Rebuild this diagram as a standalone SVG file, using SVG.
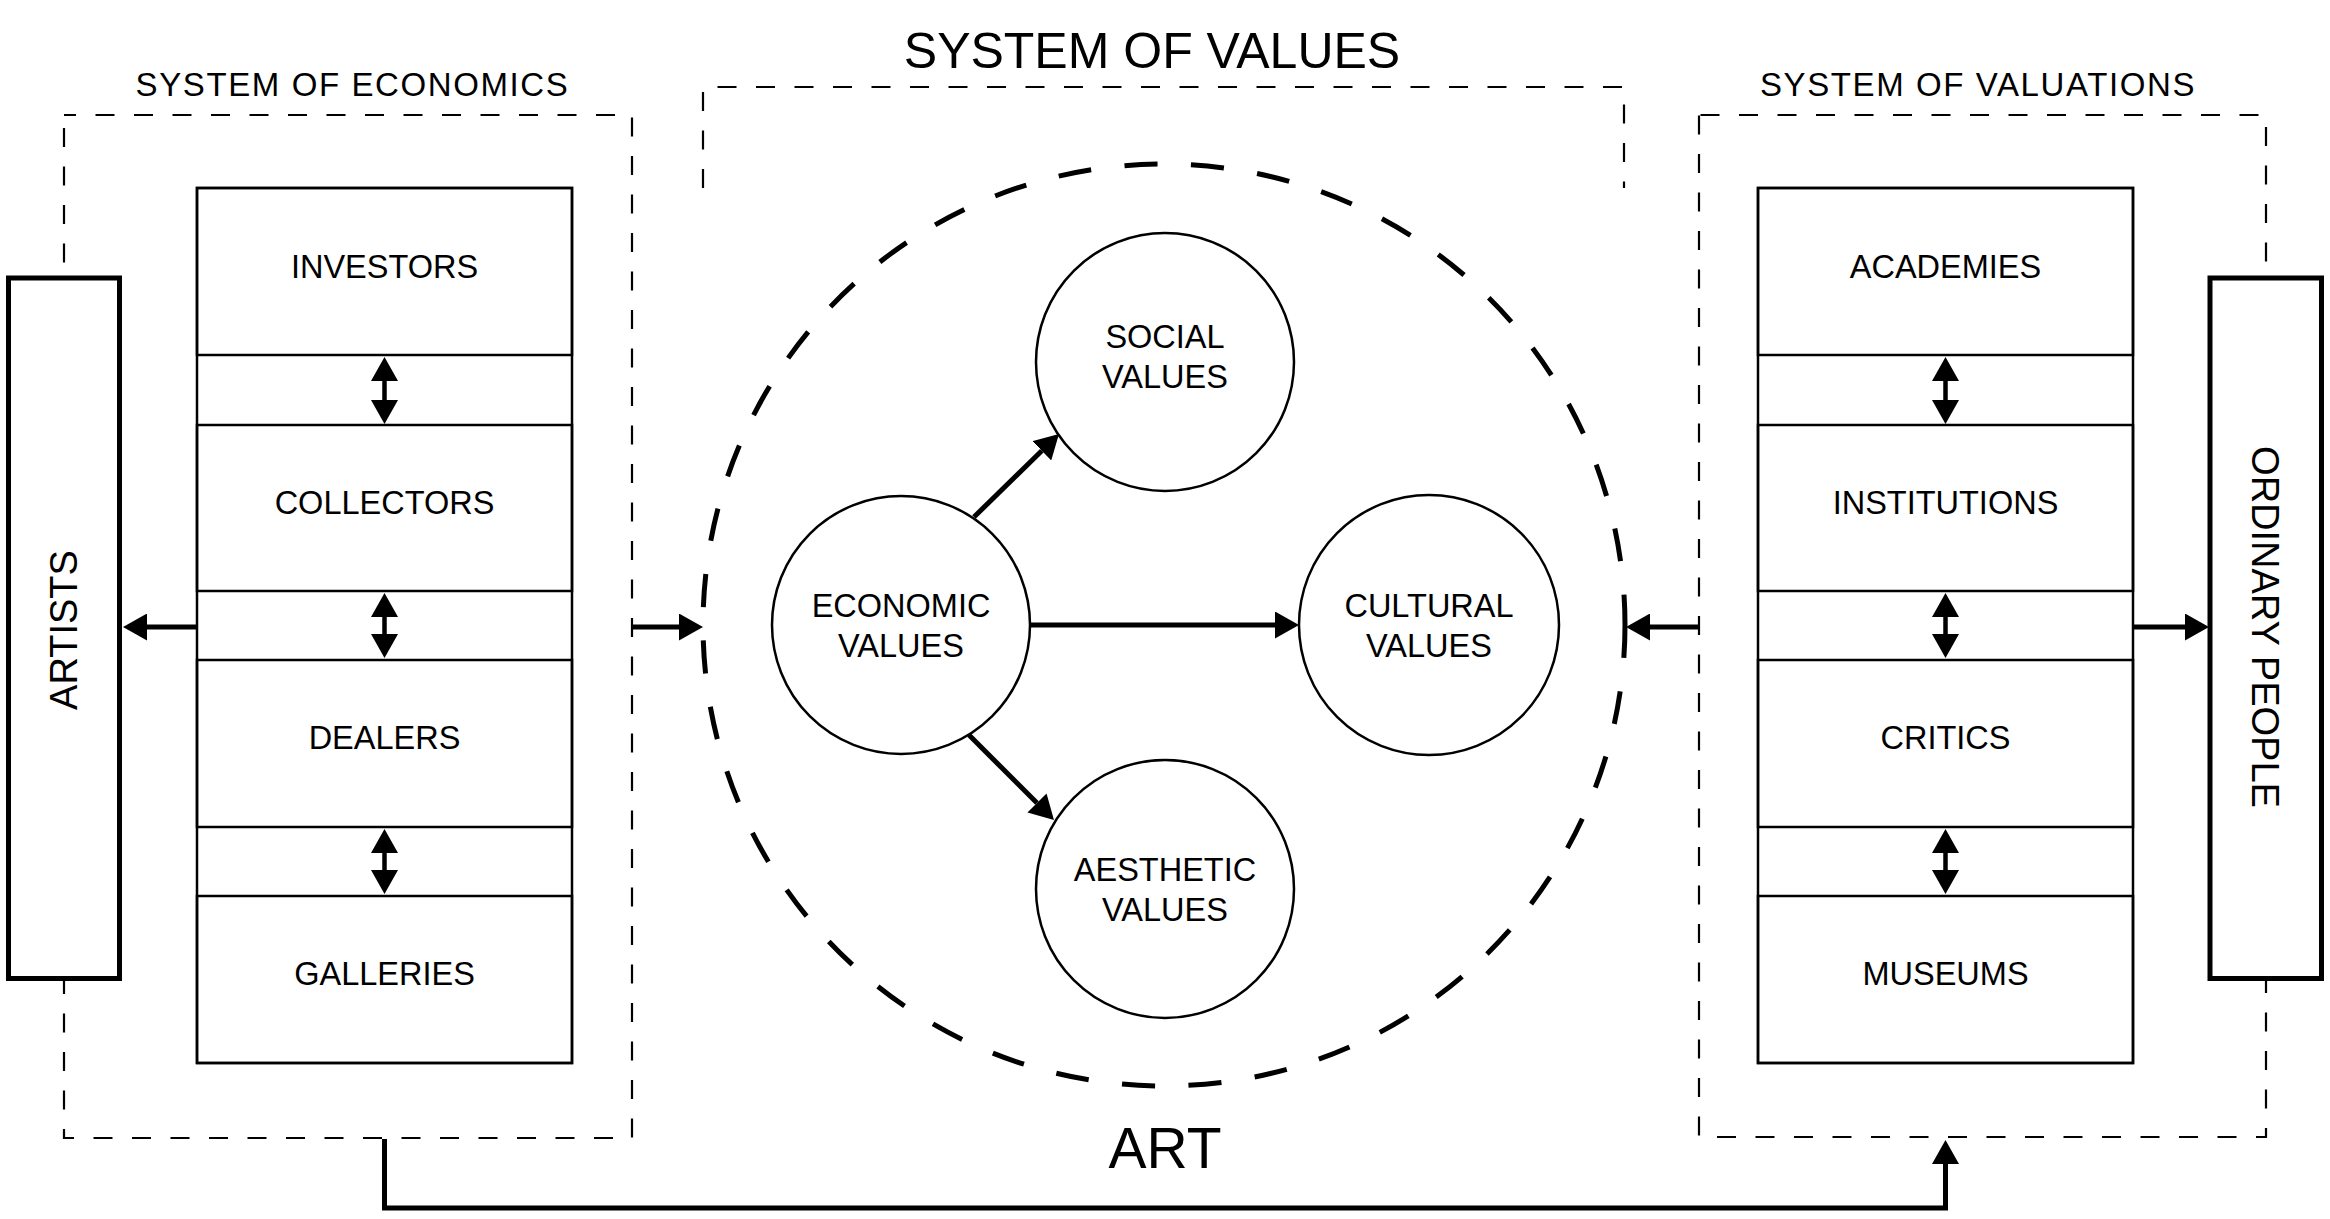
<svg xmlns="http://www.w3.org/2000/svg" width="2330" height="1219" viewBox="0 0 2330 1219">
<style>
text{font-family:"Liberation Sans",Arial,Helvetica,sans-serif;fill:#000;}
.lbl{font-size:32.5px;text-anchor:middle;}
.sys{font-size:33px;letter-spacing:1.6px;text-anchor:middle;}
.side{font-size:38px;text-anchor:middle;}
.dash{fill:none;stroke:#000;stroke-width:2.2;stroke-dasharray:19 19.5;}
.stack{fill:#fff;stroke:#000;stroke-width:2.5;}
.row{fill:none;stroke:#000;stroke-width:2.5;}
.actor{fill:#fff;stroke:#000;stroke-width:5;}
.val{fill:#fff;stroke:#000;stroke-width:2.5;}
.conn{fill:none;stroke:#000;stroke-width:5;marker-end:url(#ah);}
.dbl{fill:none;stroke:#000;stroke-width:4.5;marker-start:url(#ah);marker-end:url(#ah);}
</style>
<defs>
<marker id="ah" markerUnits="userSpaceOnUse" viewBox="0 0 24 27" markerWidth="24" markerHeight="27" refX="0" refY="13.5" orient="auto-start-reverse">
<path d="M0,0 L24,13.5 L0,27 Z" fill="#000"/>
</marker>
</defs>
<rect width="2330" height="1219" fill="#fff"/>

<g id="system-of-economics">
<rect class="dash" x="64" y="115" width="568" height="1023" style="stroke-dashoffset:7"/>
<text class="sys" x="352.5" y="96">SYSTEM OF ECONOMICS</text>
</g>
<g id="system-of-valuations">
<rect class="dash" x="1699" y="115" width="567" height="1022" style="stroke-dashoffset:37"/>
<text class="sys" x="1978" y="96">SYSTEM OF VALUATIONS</text>
</g>
<g id="system-of-values">
<path class="dash" d="M703,188 V87 H1624 V188"/>
<text x="1152" y="68" style="font-size:50px;text-anchor:middle">SYSTEM OF VALUES</text>
</g>
<g id="art">
<circle cx="1164" cy="625" r="461" fill="none" stroke="#000" stroke-width="5" stroke-dasharray="33 33.64"/>
<text x="1165" y="1168" style="font-size:57px;text-anchor:middle">ART</text>
</g>

<g id="artists">
<rect class="actor" x="8.5" y="278" width="111" height="700.5"/>
<text class="side" transform="translate(77,630) rotate(-90)">ARTISTS</text>
</g>
<g id="ordinary-people">
<rect class="actor" x="2210" y="278" width="111.5" height="700.5"/>
<text class="side" transform="translate(2252,627) rotate(90)">ORDINARY PEOPLE</text>
</g>

<g id="economics-stack">
<rect class="stack" x="197" y="188" width="375" height="875"/>
</g>
<g id="investors"><rect class="row" x="197" y="188" width="375" height="167"/><text class="lbl" x="384.5" y="278">INVESTORS</text></g>
<g id="collectors"><rect class="row" x="197" y="425" width="375" height="166"/><text class="lbl" x="384.5" y="514">COLLECTORS</text></g>
<g id="dealers"><rect class="row" x="197" y="660" width="375" height="167"/><text class="lbl" x="384.5" y="749">DEALERS</text></g>
<g id="galleries"><rect class="row" x="197" y="896" width="375" height="167"/><text class="lbl" x="384.5" y="985">GALLERIES</text></g>

<g id="valuations-stack">
<rect class="stack" x="1758" y="188" width="375" height="875"/>
</g>
<g id="academies"><rect class="row" x="1758" y="188" width="375" height="167"/><text class="lbl" x="1945.5" y="278">ACADEMIES</text></g>
<g id="institutions"><rect class="row" x="1758" y="425" width="375" height="166"/><text class="lbl" x="1945.5" y="514">INSTITUTIONS</text></g>
<g id="critics"><rect class="row" x="1758" y="660" width="375" height="167"/><text class="lbl" x="1945.5" y="749">CRITICS</text></g>
<g id="museums"><rect class="row" x="1758" y="896" width="375" height="167"/><text class="lbl" x="1945.5" y="985">MUSEUMS</text></g>

<g id="social-values"><circle class="val" cx="1165" cy="362" r="129"/><text class="lbl" x="1165" y="348">SOCIAL</text><text class="lbl" x="1165" y="388">VALUES</text></g>
<g id="economic-values"><circle class="val" cx="901" cy="625" r="129"/><text class="lbl" x="901" y="617">ECONOMIC</text><text class="lbl" x="901" y="657">VALUES</text></g>
<g id="cultural-values"><circle class="val" cx="1429" cy="625" r="130"/><text class="lbl" x="1429" y="617">CULTURAL</text><text class="lbl" x="1429" y="657">VALUES</text></g>
<g id="aesthetic-values"><circle class="val" cx="1165" cy="889" r="129"/><text class="lbl" x="1165" y="881">AESTHETIC</text><text class="lbl" x="1165" y="921">VALUES</text></g>

<g id="connectors">
<path class="dbl" d="M384.5,381 V400"/>
<path class="dbl" d="M384.5,617 V634"/>
<path class="dbl" d="M384.5,853 V870"/>
<path class="dbl" d="M1945.5,381 V400"/>
<path class="dbl" d="M1945.5,617 V634"/>
<path class="dbl" d="M1945.5,853 V870"/>
<path class="conn" d="M197,627 H147"/>
<path class="conn" d="M632,627 H679"/>
<path class="conn" d="M1699,627 H1650"/>
<path class="conn" d="M2133,627 H2185"/>
<path class="conn" d="M1030,625 H1275"/>
<path class="conn" d="M974,517 L1041.8,450.8"/>
<path class="conn" d="M969,735 L1037,803"/>
<path class="conn" d="M384.5,1139 V1208 H1945.5 V1164"/>
</g>
</svg>
